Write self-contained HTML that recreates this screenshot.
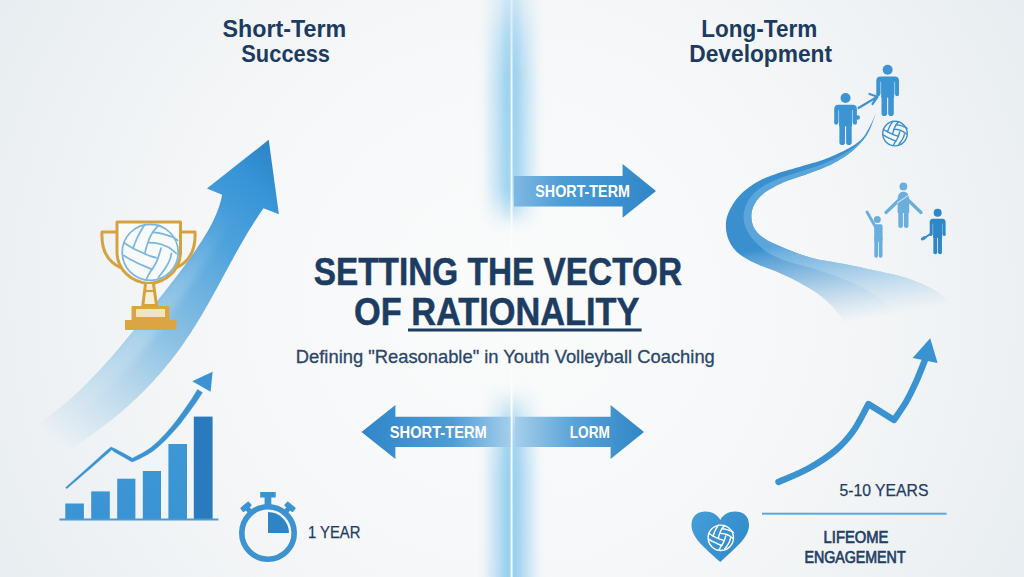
<!DOCTYPE html>
<html><head><meta charset="utf-8">
<style>
html,body{margin:0;padding:0;width:1024px;height:577px;overflow:hidden;background:#eef1f4;}
svg{display:block;position:absolute;left:0;top:0;}
text{font-family:"Liberation Sans",sans-serif;}
</style></head>
<body>
<svg width="1024" height="577" viewBox="0 0 1024 577">
<defs>
  <radialGradient id="bg" cx="512" cy="300" r="620" gradientUnits="userSpaceOnUse">
    <stop offset="0" stop-color="#fafbfb"/>
    <stop offset="0.4" stop-color="#f7f8f9"/>
    <stop offset="0.7" stop-color="#f0f3f5"/>
    <stop offset="1" stop-color="#e6ecf0"/>
  </radialGradient>
  <linearGradient id="glowV" x1="0" y1="0" x2="0" y2="577" gradientUnits="userSpaceOnUse">
    <stop offset="0" stop-color="#a9d3ef" stop-opacity="0.9"/>
    <stop offset="0.3" stop-color="#a9d3ef" stop-opacity="0.8"/>
    <stop offset="0.4" stop-color="#a9d3ef" stop-opacity="0"/>
    <stop offset="0.66" stop-color="#a9d3ef" stop-opacity="0"/>
    <stop offset="0.8" stop-color="#a9d3ef" stop-opacity="0.8"/>
    <stop offset="1" stop-color="#a9d3ef" stop-opacity="0.9"/>
  </linearGradient>
  <linearGradient id="glowH" x1="490" y1="0" x2="536" y2="0" gradientUnits="userSpaceOnUse">
    <stop offset="0" stop-color="#fff" stop-opacity="0"/>
    <stop offset="0.5" stop-color="#fff" stop-opacity="1"/>
    <stop offset="1" stop-color="#fff" stop-opacity="0"/>
  </linearGradient>
  <mask id="glowMask" maskUnits="userSpaceOnUse" x="0" y="0" width="1024" height="577">
    <rect x="488" y="0" width="50" height="577" fill="url(#glowH)"/>
  </mask>
  <linearGradient id="bigArrow" x1="40" y1="430" x2="270" y2="140" gradientUnits="userSpaceOnUse">
    <stop offset="0" stop-color="#7ab8e0" stop-opacity="0"/>
    <stop offset="0.2" stop-color="#7ab8e0" stop-opacity="0.4"/>
    <stop offset="0.4" stop-color="#6db1de" stop-opacity="0.75"/>
    <stop offset="0.7" stop-color="#459edb" stop-opacity="0.95"/>
    <stop offset="0.88" stop-color="#3794d6"/>
    <stop offset="1" stop-color="#2a83c6"/>
  </linearGradient>
  <linearGradient id="ribbon" x1="870" y1="120" x2="930" y2="320" gradientUnits="userSpaceOnUse">
    <stop offset="0" stop-color="#3a8fcd"/>
    <stop offset="0.5" stop-color="#4c9bd4"/>
    <stop offset="0.75" stop-color="#7ab6e0" stop-opacity="0.8"/>
    <stop offset="1" stop-color="#c9e2f3" stop-opacity="0"/>
  </linearGradient>
  <linearGradient id="arrTop" x1="514" y1="0" x2="656" y2="0" gradientUnits="userSpaceOnUse">
    <stop offset="0" stop-color="#7fb9e2"/>
    <stop offset="0.35" stop-color="#4d9cd5"/>
    <stop offset="1" stop-color="#2f86c8"/>
  </linearGradient>
  <linearGradient id="arrL" x1="361" y1="0" x2="511" y2="0" gradientUnits="userSpaceOnUse">
    <stop offset="0" stop-color="#2f86c8"/>
    <stop offset="0.6" stop-color="#4d9cd5"/>
    <stop offset="1" stop-color="#a6cfeb"/>
  </linearGradient>
  <linearGradient id="arrR" x1="515" y1="0" x2="644" y2="0" gradientUnits="userSpaceOnUse">
    <stop offset="0" stop-color="#a6cfeb"/>
    <stop offset="0.45" stop-color="#5aa3d8"/>
    <stop offset="1" stop-color="#2f86c8"/>
  </linearGradient>
  <linearGradient id="gold" x1="0" y1="220" x2="0" y2="330" gradientUnits="userSpaceOnUse">
    <stop offset="0" stop-color="#d9a640"/>
    <stop offset="1" stop-color="#e0ac44"/>
  </linearGradient>
  <linearGradient id="ribFade" x1="788" y1="244" x2="803" y2="330" gradientUnits="userSpaceOnUse">
    <stop offset="0" stop-color="#fff" stop-opacity="1"/>
    <stop offset="0.1" stop-color="#fff" stop-opacity="0.85"/>
    <stop offset="0.38" stop-color="#fff" stop-opacity="0.55"/>
    <stop offset="0.62" stop-color="#fff" stop-opacity="0.3"/>
    <stop offset="0.85" stop-color="#fff" stop-opacity="0.1"/>
    <stop offset="1" stop-color="#fff" stop-opacity="0"/>
  </linearGradient>
  <mask id="ribMask" maskUnits="userSpaceOnUse" x="0" y="0" width="1024" height="577">
    <rect x="600" y="0" width="424" height="577" fill="url(#ribFade)"/>
  </mask>
  <filter id="blur6" x="-100%" y="-10%" width="300%" height="120%"><feGaussianBlur stdDeviation="7"/></filter>
  <linearGradient id="lineV" x1="0" y1="0" x2="0" y2="577" gradientUnits="userSpaceOnUse">
    <stop offset="0" stop-color="#fff" stop-opacity="0.4"/>
    <stop offset="0.15" stop-color="#fff" stop-opacity="0.85"/>
    <stop offset="0.36" stop-color="#fff" stop-opacity="0.9"/>
    <stop offset="0.43" stop-color="#fff" stop-opacity="0.3"/>
    <stop offset="0.64" stop-color="#fff" stop-opacity="0.3"/>
    <stop offset="0.7" stop-color="#fff" stop-opacity="0.95"/>
    <stop offset="1" stop-color="#fff" stop-opacity="0.95"/>
  </linearGradient>
  <linearGradient id="glowFill" x1="0" y1="0" x2="0" y2="577" gradientUnits="userSpaceOnUse">
    <stop offset="0" stop-color="#b3dcf2" stop-opacity="0.35"/>
    <stop offset="0.07" stop-color="#b3dcf2" stop-opacity="0.75"/>
    <stop offset="0.14" stop-color="#b3dcf2" stop-opacity="0.95"/>
    <stop offset="0.33" stop-color="#b3dcf2" stop-opacity="0.9"/>
    <stop offset="0.395" stop-color="#b3dcf2" stop-opacity="0"/>
    <stop offset="0.67" stop-color="#b3dcf2" stop-opacity="0"/>
    <stop offset="0.75" stop-color="#b3dcf2" stop-opacity="0.8"/>
    <stop offset="0.82" stop-color="#b3dcf2" stop-opacity="1"/>
    <stop offset="1" stop-color="#b3dcf2" stop-opacity="1"/>
  </linearGradient>
  <filter id="blur3" x="-100%" y="-10%" width="300%" height="120%"><feGaussianBlur stdDeviation="3"/></filter>
  <linearGradient id="glowFill2" x1="0" y1="0" x2="0" y2="577" gradientUnits="userSpaceOnUse">
    <stop offset="0" stop-color="#92cdee" stop-opacity="0.3"/>
    <stop offset="0.07" stop-color="#92cdee" stop-opacity="0.6"/>
    <stop offset="0.14" stop-color="#92cdee" stop-opacity="0.85"/>
    <stop offset="0.33" stop-color="#92cdee" stop-opacity="0.75"/>
    <stop offset="0.39" stop-color="#92cdee" stop-opacity="0"/>
    <stop offset="0.68" stop-color="#92cdee" stop-opacity="0"/>
    <stop offset="0.76" stop-color="#92cdee" stop-opacity="0.75"/>
    <stop offset="0.84" stop-color="#92cdee" stop-opacity="0.9"/>
    <stop offset="1" stop-color="#92cdee" stop-opacity="0.95"/>
  </linearGradient>
  <linearGradient id="bandHi" x1="220" y1="200" x2="60" y2="420" gradientUnits="userSpaceOnUse">
    <stop offset="0" stop-color="#ffffff" stop-opacity="0"/>
    <stop offset="0.3" stop-color="#ffffff" stop-opacity="0.15"/>
    <stop offset="0.6" stop-color="#ffffff" stop-opacity="0.2"/>
    <stop offset="1" stop-color="#ffffff" stop-opacity="0"/>
  </linearGradient>
  <linearGradient id="heartG" x1="692" y1="515" x2="750" y2="555" gradientUnits="userSpaceOnUse">
    <stop offset="0" stop-color="#459dd8"/>
    <stop offset="1" stop-color="#2f88c9"/>
  </linearGradient>
  <linearGradient id="barG" x1="0" y1="410" x2="0" y2="520" gradientUnits="userSpaceOnUse">
    <stop offset="0" stop-color="#3f9ad8"/>
    <stop offset="1" stop-color="#3a93d2"/>
  </linearGradient>
</defs>

<!-- background -->
<rect width="1024" height="577" fill="url(#bg)"/>

<!-- center glow divider -->
<g filter="url(#blur6)">
  <rect x="491" y="-20" width="20" height="617" fill="url(#glowFill)"/>
  <rect x="512.5" y="-20" width="19" height="617" fill="url(#glowFill)"/>
</g>
<g filter="url(#blur3)">
  <rect x="503.5" y="-10" width="7.5" height="597" fill="url(#glowFill2)"/>
  <rect x="512.5" y="-10" width="7" height="597" fill="url(#glowFill2)"/>
</g>
<rect x="510.6" y="0" width="1.9" height="577" fill="url(#lineV)"/>
<!-- big left arrow band -->
<path d="M268.7,139.8 L278.9,214.3 L263.53,208.20 L261.96,210.48 L260.40,212.78 L258.85,215.08 L257.32,217.40 L255.81,219.72 L254.31,222.06 L252.83,224.40 L251.36,226.75 L249.90,229.11 L248.45,231.48 L247.02,233.86 L245.60,236.24 L244.19,238.63 L242.80,241.03 L241.41,243.43 L240.03,245.84 L238.66,248.25 L237.30,250.67 L235.95,253.09 L234.60,255.51 L233.26,257.94 L231.93,260.38 L230.60,262.81 L229.27,265.25 L227.95,267.69 L226.63,270.13 L225.31,272.57 L224.00,275.01 L222.68,277.45 L221.36,279.89 L220.04,282.33 L218.72,284.77 L217.40,287.21 L216.07,289.64 L214.74,292.08 L213.40,294.51 L212.06,296.94 L210.71,299.36 L209.35,301.78 L207.99,304.19 L206.61,306.60 L205.23,309.01 L203.84,311.41 L202.43,313.80 L201.02,316.19 L199.59,318.57 L198.15,320.94 L196.70,323.30 L195.24,325.66 L193.76,328.01 L192.27,330.35 L190.76,332.68 L189.24,335.00 L187.71,337.31 L186.15,339.61 L184.59,341.89 L183.00,344.17 L181.40,346.44 L179.78,348.69 L178.15,350.93 L176.50,353.16 L174.83,355.38 L173.15,357.59 L171.45,359.78 L169.73,361.96 L168.00,364.12 L166.24,366.27 L164.47,368.41 L162.69,370.53 L160.88,372.64 L159.06,374.73 L157.23,376.81 L155.37,378.87 L153.50,380.92 L151.62,382.96 L149.71,384.97 L147.79,386.98 L145.86,388.97 L143.91,390.94 L141.95,392.90 L139.97,394.84 L137.97,396.77 L135.96,398.68 L133.94,400.58 L131.90,402.46 L129.84,404.32 L127.78,406.17 L125.70,408.01 L123.61,409.83 L121.50,411.64 L119.38,413.43 L117.25,415.20 L115.11,416.97 L112.95,418.71 L110.78,420.44 L108.61,422.16 L106.42,423.87 L104.22,425.56 L102.01,427.23 L99.78,428.89 L97.55,430.54 L95.31,432.17 L93.06,433.79 L90.80,435.40 L88.53,437.00 L86.25,438.58 L83.96,440.14 L81.66,441.70 L79.36,443.24 L77.04,444.77 L74.72,446.29 L72.39,447.79 L70.05,449.29 L67.70,450.77 L65.35,452.24 L62.99,453.70 L60.62,455.14 L58.25,456.58 L55.87,458.00 L-9.41,452.00 L-6.76,450.66 L-4.13,449.31 L-1.50,447.93 L1.12,446.54 L3.73,445.13 L6.32,443.71 L8.91,442.26 L11.49,440.80 L14.06,439.32 L16.61,437.82 L19.15,436.29 L21.69,434.75 L24.21,433.19 L26.71,431.61 L29.21,430.01 L31.69,428.39 L34.16,426.75 L36.61,425.09 L39.05,423.41 L41.48,421.70 L43.89,419.98 L46.28,418.23 L48.66,416.47 L51.03,414.68 L53.38,412.88 L55.71,411.05 L58.03,409.20 L60.33,407.33 L62.61,405.44 L64.88,403.54 L67.14,401.61 L69.37,399.66 L71.59,397.70 L73.79,395.72 L75.98,393.71 L78.15,391.70 L80.30,389.66 L82.44,387.61 L84.56,385.54 L86.67,383.45 L88.76,381.35 L90.84,379.24 L92.90,377.11 L94.95,374.97 L96.98,372.81 L99.00,370.65 L101.01,368.47 L103.01,366.28 L105.00,364.08 L106.97,361.87 L108.94,359.65 L110.89,357.42 L112.84,355.19 L114.77,352.94 L116.70,350.69 L118.62,348.43 L120.53,346.17 L122.44,343.90 L124.34,341.63 L126.24,339.35 L128.13,337.06 L130.01,334.78 L131.89,332.49 L133.77,330.19 L135.64,327.89 L137.51,325.59 L139.37,323.29 L141.24,320.99 L143.10,318.68 L144.96,316.37 L146.81,314.06 L148.67,311.75 L150.52,309.43 L152.37,307.12 L154.21,304.80 L156.06,302.48 L157.90,300.16 L159.74,297.84 L161.58,295.51 L163.42,293.18 L165.25,290.85 L167.08,288.52 L168.90,286.18 L170.72,283.85 L172.54,281.50 L174.35,279.16 L176.15,276.81 L177.95,274.45 L179.74,272.09 L181.53,269.72 L183.30,267.35 L185.07,264.97 L186.83,262.58 L188.57,260.19 L190.31,257.78 L192.02,255.37 L193.73,252.95 L195.42,250.51 L197.09,248.06 L198.73,245.60 L200.36,243.12 L201.97,240.63 L203.54,238.12 L205.09,235.59 L206.61,233.05 L208.10,230.48 L209.54,227.89 L210.95,225.28 L212.30,222.65 L213.61,219.99 L214.87,217.31 L216.06,214.59 L217.19,211.85 L218.24,209.08 L219.21,206.28 L220.09,203.45 L220.88,200.59 L221.56,197.71 L222.12,194.80 L206.9,188.6 Z" fill="url(#bigArrow)"/>
<path d="M222.12,194.80 L221.56,197.71 L220.88,200.59 L220.09,203.45 L219.21,206.28 L218.24,209.08 L217.19,211.85 L216.06,214.59 L214.87,217.31 L213.61,219.99 L212.30,222.65 L210.95,225.28 L209.54,227.89 L208.10,230.48 L206.61,233.05 L205.09,235.59 L203.54,238.12 L201.97,240.63 L200.36,243.12 L198.73,245.60 L197.09,248.06 L195.42,250.51 L193.73,252.95 L192.02,255.37 L190.31,257.78 L188.57,260.19 L186.83,262.58 L185.07,264.97 L183.30,267.35 L181.53,269.72 L179.74,272.09 L177.95,274.45 L176.15,276.81 L174.35,279.16 L172.54,281.50 L170.72,283.85 L168.90,286.18 L167.08,288.52 L165.25,290.85 L163.42,293.18 L161.58,295.51 L159.74,297.84 L157.90,300.16 L156.06,302.48 L154.21,304.80 L152.37,307.12 L150.52,309.43 L148.67,311.75 L146.81,314.06 L144.96,316.37 L143.10,318.68 L141.24,320.99 L139.37,323.29 L137.51,325.59 L135.64,327.89 L133.77,330.19 L131.89,332.49 L130.01,334.78 L128.13,337.06 L126.24,339.35 L124.34,341.63 L122.44,343.90 L120.53,346.17 L118.62,348.43 L116.70,350.69 L114.77,352.94 L112.84,355.19 L110.89,357.42 L108.94,359.65 L106.97,361.87 L105.00,364.08 L103.01,366.28 L101.01,368.47 L99.00,370.65 L96.98,372.81 L94.95,374.97 L92.90,377.11 L90.84,379.24 L88.76,381.35 L86.67,383.45 L84.56,385.54 L82.44,387.61 L80.30,389.66 L78.15,391.70 L75.98,393.71 L73.79,395.72 L71.59,397.70 L69.37,399.66 L67.14,401.61 L64.88,403.54 L62.61,405.44 L60.33,407.33 L58.03,409.20 L55.71,411.05 L53.38,412.88 L51.03,414.68 L48.66,416.47 L46.28,418.23 L43.89,419.98 L41.48,421.70 L39.05,423.41 L36.61,425.09 L34.16,426.75 L31.69,428.39 L29.21,430.01 L26.71,431.61 L24.21,433.19 L21.69,434.75 L19.15,436.29 L16.61,437.82 L14.06,439.32 L11.49,440.80 L8.91,442.26 L6.32,443.71 L3.73,445.13 L1.12,446.54 L-1.50,447.93 L-4.13,449.31 L-6.76,450.66 L-9.41,452.00 L18.01,454.52 L20.54,453.15 L23.07,451.76 L25.59,450.35 L28.10,448.93 L30.60,447.50 L33.09,446.05 L35.57,444.59 L38.05,443.10 L40.51,441.61 L42.96,440.09 L45.41,438.56 L47.84,437.02 L50.26,435.45 L52.67,433.87 L55.08,432.28 L57.46,430.66 L59.84,429.03 L62.21,427.38 L64.56,425.71 L66.90,424.02 L69.23,422.32 L71.54,420.60 L73.84,418.86 L76.13,417.10 L78.40,415.33 L80.66,413.53 L82.90,411.72 L85.13,409.89 L87.35,408.05 L89.55,406.18 L91.73,404.30 L93.90,402.40 L96.06,400.48 L98.20,398.55 L100.32,396.60 L102.43,394.63 L104.52,392.64 L106.60,390.64 L108.66,388.63 L110.71,386.60 L112.74,384.55 L114.76,382.49 L116.76,380.41 L118.75,378.32 L120.72,376.22 L122.68,374.10 L124.62,371.97 L126.55,369.83 L128.47,367.67 L130.37,365.51 L132.26,363.33 L134.14,361.14 L136.00,358.94 L137.85,356.73 L139.69,354.51 L141.52,352.28 L143.34,350.04 L145.15,347.79 L146.94,345.54 L148.73,343.27 L150.50,341.00 L152.27,338.72 L154.02,336.44 L155.77,334.14 L157.51,331.85 L159.24,329.54 L160.96,327.23 L162.67,324.92 L164.38,322.60 L166.08,320.27 L167.77,317.94 L169.45,315.61 L171.13,313.27 L172.80,310.93 L174.47,308.58 L176.13,306.23 L177.78,303.88 L179.43,301.52 L181.07,299.16 L182.71,296.79 L184.34,294.43 L185.97,292.05 L187.59,289.68 L189.21,287.30 L190.82,284.92 L192.43,282.54 L194.03,280.15 L195.63,277.76 L197.22,275.37 L198.81,272.97 L200.39,270.57 L201.97,268.16 L203.55,265.75 L205.11,263.34 L206.67,260.92 L208.23,258.49 L209.77,256.07 L211.31,253.63 L212.84,251.19 L214.36,248.74 L215.88,246.29 L217.38,243.83 L218.87,241.36 L220.35,238.88 L221.81,236.40 L223.26,233.90 L224.69,231.40 L226.10,228.89 L227.49,226.36 L228.85,223.82 L230.19,221.27 L231.50,218.71 L232.78,216.14 L234.02,213.55 L235.22,210.95 L236.37,208.34 L237.48,205.71 L238.52,203.07 L239.51,200.43 Z" fill="url(#bandHi)" filter="url(#blur3)"/>

<!-- trophy -->
<g fill="none" stroke="#d6a23f" stroke-width="3" stroke-linejoin="round">
  <path d="M117,222 L180.5,222 L180.5,252 C180.5,270 166,282.5 149,283.5 C132,282.5 117,270 117,252 Z" fill="#ffffff" fill-opacity="0.6"/>
  <path d="M117,232 L102,232 C101,250 108,262 121,268"/>
  <path d="M180,232 L195,232 C196,250 189,262 176,268"/>
  <path d="M145.5,284 L142.8,305.5 L156.6,305.5 L153.5,284" fill="#f6efe0"/>
  <path d="M144.5,291 L155,291" stroke-width="2.2"/>
</g>
<!-- trophy ball -->
<g fill="none" stroke="#7ab7e0" stroke-width="1.75" stroke-linecap="round" stroke-linejoin="round">
<circle cx="150.20" cy="252.30" r="28.00" fill="#f7f9fb"/>
<path d="M144.80,224.50 C144.23,225.42 142.55,227.97 141.38,230.01 C140.21,232.05 138.89,234.40 137.77,236.73 C136.64,239.07 135.41,242.11 134.63,244.01 C133.85,245.92 133.35,247.47 133.09,248.16"/>
<path d="M158.71,225.14 C157.98,225.95 155.67,228.25 154.34,230.01 C153.01,231.77 151.77,233.71 150.73,235.70 C149.70,237.68 148.91,239.86 148.13,241.94 C147.35,244.02 146.57,246.26 146.06,248.16 C145.54,250.06 145.19,252.47 145.02,253.34"/>
<path d="M123.77,242.44 C124.54,242.96 126.43,244.34 128.42,245.55 C130.40,246.76 133.07,248.40 135.67,249.70 C138.26,250.99 141.39,252.21 143.98,253.34 C146.58,254.46 148.99,255.66 151.24,256.44 C153.48,257.22 156.42,257.75 157.45,258.01"/>
<path d="M123.77,255.41 C124.89,256.10 127.98,258.17 130.49,259.55 C132.99,260.93 136.21,262.48 138.80,263.70 C141.40,264.91 143.81,265.88 146.06,266.83 C148.30,267.78 151.24,268.98 152.27,269.41"/>
<path d="M152.80,232.08 C153.92,232.26 157.19,232.60 159.52,233.12 C161.86,233.64 164.38,234.42 166.80,235.19 C169.23,235.97 172.25,236.90 174.06,237.77 C175.87,238.63 177.07,239.94 177.67,240.37"/>
<path d="M148.13,242.44 C149.16,242.53 152.10,242.63 154.34,242.98 C156.59,243.32 159.17,243.74 161.60,244.52 C164.02,245.29 166.45,246.15 168.88,247.62 C171.30,249.09 174.92,252.38 176.13,253.34"/>
<path d="M161.09,248.16 C160.83,249.02 160.13,251.44 159.52,253.34 C158.92,255.24 158.32,257.48 157.45,259.55 C156.59,261.62 155.55,263.69 154.34,265.77 C153.14,267.84 151.50,269.85 150.20,272.01 C148.90,274.17 147.17,277.61 146.56,278.73"/>
<path d="M171.45,253.34 C171.20,254.37 170.69,257.48 169.91,259.55 C169.14,261.62 168.02,263.69 166.80,265.77 C165.59,267.84 164.02,270.11 162.63,272.01 C161.25,273.92 159.18,276.33 158.49,277.19"/>
</g>
<rect x="131.5" y="306" width="38" height="14" fill="#dba543"/>
<rect x="136" y="309" width="29" height="8" fill="#f3e4c0"/>
<rect x="125" y="320" width="51.5" height="10" fill="#dba543"/>

<!-- bar chart -->
<g>
  <rect x="65.3" y="503.5" width="18.6" height="15.5" fill="url(#barG)"/>
  <rect x="91.2" y="491.4" width="18.6" height="27.6" fill="url(#barG)"/>
  <rect x="117.2" y="478.7" width="18.2" height="40.3" fill="url(#barG)"/>
  <rect x="142.8" y="471" width="18.2" height="48" fill="url(#barG)"/>
  <rect x="168.4" y="444" width="18.6" height="75" fill="url(#barG)"/>
  <rect x="193.8" y="416.6" width="18.8" height="102.4" fill="#2a7bbd"/>
  <rect x="59.4" y="518.5" width="159" height="2" fill="#4a9bd4"/>
  <path d="M66.73,488.80 L71.29,484.87 L75.84,480.94 L80.40,477.02 L84.95,473.09 L89.51,469.16 L94.06,465.23 L98.62,461.30 L103.18,457.37 L107.73,453.45 L111.66,449.85 L114.09,451.71 L117.60,453.72 L121.11,455.73 L124.62,457.73 L128.13,459.74 L132.03,461.91 L134.55,461.12 L136.11,460.35 L137.99,459.44 L140.10,458.41 L142.39,457.26 L144.80,456.00 L147.26,454.64 L149.71,453.18 L152.10,451.64 L154.35,450.01 L156.51,448.30 L158.67,446.46 L160.84,444.52 L163.00,442.49 L165.15,440.39 L167.29,438.22 L169.40,436.02 L171.48,433.80 L173.52,431.57 L175.50,429.35 L177.49,427.05 L179.49,424.63 L181.48,422.13 L183.45,419.59 L185.36,417.05 L187.22,414.55 L188.99,412.14 L190.66,409.84 L192.21,407.71 L193.62,405.77 L194.92,403.96 L196.13,402.23 L197.25,400.59 L198.27,399.06 L199.20,397.64 L200.03,396.34 L200.78,395.17 L201.42,394.14 L201.98,393.28 L202.45,392.56 L197.55,389.44 L197.08,390.20 L196.53,391.11 L195.90,392.16 L195.20,393.33 L194.41,394.61 L193.54,396.02 L192.59,397.53 L191.55,399.14 L190.41,400.84 L189.18,402.63 L187.82,404.59 L186.32,406.76 L184.71,409.08 L183.01,411.52 L181.24,414.03 L179.40,416.57 L177.54,419.10 L175.65,421.59 L173.77,423.98 L171.90,426.25 L170.00,428.47 L168.05,430.70 L166.06,432.93 L164.05,435.13 L162.01,437.29 L159.96,439.39 L157.91,441.40 L155.86,443.32 L153.84,445.12 L151.85,446.79 L149.79,448.34 L147.59,449.84 L145.28,451.28 L142.94,452.64 L140.63,453.92 L138.41,455.10 L136.34,456.17 L134.49,457.12 L132.90,457.95 L132.97,458.49 L129.81,456.73 L126.25,454.80 L122.69,452.87 L119.14,450.95 L115.58,449.02 L110.94,446.95 L105.85,451.31 L101.38,455.35 L96.92,459.38 L92.46,463.41 L87.99,467.44 L83.53,471.47 L79.06,475.50 L74.60,479.54 L70.13,483.57 L65.67,487.60 Z" fill="#3b93d1" stroke="#3b93d1" stroke-width="0.4" stroke-linejoin="round"/>
  <path d="M212.6,371.8 L192.3,381.2 L210.6,391.8 Z" fill="#3b93d1"/>
</g>

<!-- stopwatch -->
<g>
  <circle cx="268" cy="533" r="26.2" fill="none" stroke="#3d92d0" stroke-width="5.6"/>
  <rect x="260.2" y="492" width="15.5" height="5.5" fill="#3d92d0"/>
  <rect x="264.6" y="497" width="6.7" height="8" fill="#3d92d0"/>
  <g transform="rotate(-40 268 533)"><rect x="262.5" y="496" width="11" height="5.5" rx="1" fill="#3d92d0"/><rect x="265.5" y="500" width="5" height="6" fill="#3d92d0"/></g>
  <g transform="rotate(40 268 533)"><rect x="262.5" y="496" width="11" height="5.5" rx="1" fill="#3d92d0"/><rect x="265.5" y="500" width="5" height="6" fill="#3d92d0"/></g>
  <path d="M268,533 L268,512 A21,21 0 0 1 289,533 Z" fill="#2f84c6"/>
</g>

<!-- top center arrow -->
<path d="M514,176 L622.6,176 L622.6,164 L656,191 L622.6,217.7 L622.6,206.6 L514,206.6 Z" fill="url(#arrTop)"/>
<!-- lower arrows -->
<path d="M361.5,432 L395.4,405 L395.4,416.8 L510.5,416.8 L510.5,447 L395.4,447 L395.4,459 Z" fill="url(#arrL)"/>
<path d="M515,416.8 L610.6,416.8 L610.6,405 L644,432 L610.6,459 L610.6,447 L515,447 Z" fill="url(#arrR)"/>

<!-- right ribbon -->
<g mask="url(#ribMask)">
<path d="M876.00,113.00 L875.01,115.22 L874.04,117.44 L873.06,119.66 L872.05,121.88 L871.02,124.07 L869.94,126.25 L868.78,128.38 L867.60,130.50 L866.38,132.61 L865.10,134.67 L863.70,136.65 L862.14,138.51 L860.44,140.24 L858.60,141.83 L856.68,143.32 L854.69,144.70 L852.64,146.01 L850.55,147.24 L848.43,148.44 L846.30,149.59 L844.15,150.72 L841.97,151.80 L839.78,152.85 L837.58,153.87 L835.37,154.87 L833.14,155.84 L830.90,156.78 L828.65,157.69 L826.39,158.58 L824.12,159.43 L821.83,160.24 L819.52,161.01 L817.21,161.74 L814.88,162.44 L812.55,163.11 L810.21,163.78 L807.87,164.44 L805.54,165.09 L803.20,165.76 L800.87,166.44 L798.54,167.13 L796.21,167.81 L793.88,168.48 L791.54,169.14 L789.20,169.80 L786.87,170.47 L784.54,171.15 L782.21,171.85 L779.89,172.58 L777.59,173.34 L775.30,174.15 L773.02,174.98 L770.74,175.82 L768.47,176.69 L766.22,177.60 L763.99,178.55 L761.78,179.56 L759.61,180.65 L757.48,181.82 L755.39,183.06 L753.33,184.35 L751.31,185.70 L749.32,187.09 L747.38,188.54 L745.47,190.05 L743.62,191.62 L741.83,193.25 L740.10,194.96 L738.46,196.75 L736.91,198.62 L735.43,200.55 L734.04,202.54 L732.72,204.58 L731.48,206.67 L730.31,208.79 L729.23,210.97 L728.25,213.19 L727.40,215.46 L726.73,217.80 L726.25,220.18 L725.97,222.59 L725.87,225.01 L725.90,227.44 L726.10,229.86 L726.44,232.26 L726.94,234.64 L727.59,236.98 L728.39,239.27 L729.36,241.50 L730.48,243.65 L731.74,245.73 L733.13,247.71 L734.66,249.61 L736.31,251.38 L738.07,253.05 L739.94,254.60 L741.90,256.03 L743.94,257.36 L746.03,258.60 L748.15,259.77 L750.31,260.89 L752.48,261.98 L754.67,263.03 L756.87,264.05 L759.10,265.02 L761.35,265.93 L763.62,266.79 L765.90,267.63 L768.18,268.45 L770.47,269.28 L772.74,270.13 L775.00,271.01 L777.25,271.94 L779.47,272.91 L781.69,273.90 L783.90,274.90 L786.11,275.92 L788.30,276.96 L790.49,278.02 L792.66,279.10 L794.82,280.21 L796.97,281.34 L799.10,282.50 L801.22,283.69 L803.34,284.88 L805.45,286.08 L807.56,287.29 L809.65,288.52 L811.72,289.78 L813.78,291.08 L815.81,292.41 L817.81,293.79 L819.76,295.23 L821.67,296.74 L823.54,298.29 L825.38,299.87 L827.20,301.48 L828.97,303.13 L830.71,304.83 L832.39,306.58 L834.03,308.38 L835.61,310.22 L837.13,312.11 L838.60,314.05 L840.01,316.02 L841.34,318.06 L842.61,320.13 L843.83,322.22 L845.01,324.35 L846.16,326.48 L847.30,328.63 L848.41,330.79 L849.51,332.96 L850.60,335.13 L851.67,337.30 L852.75,339.48 L853.82,341.66 L854.89,343.84 L856.00,346.00 C890,330 930,312 953,305.7 L953.00,305.70 L951.20,303.93 L949.44,302.12 L947.67,300.32 L945.86,298.56 L944.00,296.86 L942.07,295.23 L940.08,293.68 L938.00,292.25 L935.85,290.93 L933.65,289.68 L931.43,288.49 L929.18,287.34 L926.91,286.23 L924.63,285.16 L922.33,284.12 L920.01,283.12 L917.68,282.14 L915.34,281.20 L912.98,280.30 L910.62,279.42 L908.23,278.58 L905.83,277.80 L903.42,277.07 L900.99,276.38 L898.55,275.73 L896.10,275.12 L893.64,274.54 L891.18,273.98 L888.72,273.44 L886.25,272.91 L883.78,272.39 L881.31,271.87 L878.84,271.34 L876.37,270.80 L873.91,270.26 L871.44,269.71 L868.98,269.18 L866.51,268.65 L864.04,268.13 L861.57,267.61 L859.10,267.10 L856.62,266.59 L854.15,266.09 L851.67,265.59 L849.20,265.09 L846.72,264.60 L844.25,264.11 L841.77,263.61 L839.29,263.14 L836.81,262.68 L834.32,262.25 L831.83,261.83 L829.34,261.42 L826.85,261.01 L824.36,260.59 L821.88,260.15 L819.40,259.67 L816.93,259.16 L814.47,258.60 L812.02,257.98 L809.59,257.29 L807.17,256.56 L804.77,255.78 L802.38,254.98 L800.00,254.14 L797.63,253.27 L795.26,252.39 L792.91,251.48 L790.56,250.56 L788.21,249.63 L785.87,248.69 L783.53,247.74 L781.19,246.79 L778.86,245.82 L776.54,244.82 L774.24,243.79 L771.95,242.72 L769.70,241.58 L767.48,240.38 L765.32,239.07 L763.21,237.68 L761.18,236.18 L759.25,234.55 L757.46,232.78 L755.84,230.84 L754.44,228.74 L753.33,226.48 L752.48,224.10 L751.88,221.65 L751.52,219.15 L751.36,216.63 L751.43,214.11 L751.75,211.61 L752.34,209.16 L753.21,206.78 L754.31,204.52 L755.58,202.33 L756.99,200.24 L758.55,198.25 L760.26,196.40 L762.09,194.66 L764.04,193.07 L766.09,191.59 L768.20,190.20 L770.35,188.89 L772.55,187.64 L774.77,186.45 L777.03,185.31 L779.30,184.20 L781.59,183.14 L783.90,182.12 L786.23,181.17 L788.60,180.29 L790.98,179.46 L793.38,178.66 L795.78,177.88 L798.18,177.10 L800.58,176.33 L802.98,175.53 L805.36,174.70 L807.73,173.84 L810.10,172.96 L812.47,172.09 L814.84,171.21 L817.20,170.33 L819.56,169.43 L821.91,168.52 L824.25,167.57 L826.58,166.58 L828.88,165.55 L831.16,164.46 L833.41,163.32 L835.63,162.12 L837.83,160.88 L840.00,159.59 L842.15,158.26 L844.26,156.89 L846.36,155.47 L848.42,154.02 L850.45,152.52 L852.43,150.96 L854.35,149.31 L856.19,147.59 L857.97,145.80 L859.69,143.95 L861.36,142.06 L862.99,140.13 L864.59,138.18 L866.09,136.15 L867.43,134.01 L868.62,131.79 L869.72,129.51 L870.72,127.20 L871.66,124.85 L872.55,122.49 L873.42,120.12 L874.28,117.75 L875.13,115.37 L876.00,113.00 Z" fill="#3a8fcf"/>
<path d="M876.00,113.00 L875.13,115.37 L874.28,117.75 L873.42,120.12 L872.55,122.49 L871.66,124.85 L870.72,127.20 L869.72,129.51 L868.62,131.79 L867.43,134.01 L866.09,136.15 L864.59,138.18 L862.99,140.13 L861.36,142.06 L859.69,143.95 L857.97,145.80 L856.19,147.59 L854.35,149.31 L852.43,150.96 L850.45,152.52 L848.42,154.02 L846.36,155.47 L844.26,156.89 L842.15,158.26 L840.00,159.59 L837.83,160.88 L835.63,162.12 L833.41,163.32 L831.16,164.46 L828.88,165.55 L826.58,166.58 L824.25,167.57 L821.91,168.52 L819.56,169.43 L817.20,170.33 L814.84,171.21 L812.47,172.09 L810.10,172.96 L807.73,173.84 L805.36,174.70 L802.98,175.53 L800.58,176.33 L798.18,177.10 L795.78,177.88 L793.38,178.66 L790.98,179.46 L788.60,180.29 L786.23,181.17 L783.90,182.12 L781.59,183.14 L779.30,184.20 L777.03,185.31 L774.77,186.45 L772.55,187.64 L770.35,188.89 L768.20,190.20 L766.09,191.59 L764.04,193.07 L762.09,194.66 L760.26,196.40 L758.55,198.25 L756.99,200.24 L755.58,202.33 L754.31,204.52 L753.21,206.78 L752.34,209.16 L751.75,211.61 L751.43,214.11 L751.36,216.63 L751.52,219.15 L751.88,221.65 L752.48,224.10 L753.33,226.48 L754.44,228.74 L755.84,230.84 L757.46,232.78 L759.25,234.55 L761.18,236.18 L763.21,237.68 L765.32,239.07 L767.48,240.38 L769.70,241.58 L771.95,242.72 L774.24,243.79 L776.54,244.82 L778.86,245.82 L781.19,246.79 L783.53,247.74 L785.87,248.69 L788.21,249.63 L790.56,250.56 L792.91,251.48 L795.26,252.39 L797.63,253.27 L800.00,254.14 L802.38,254.98 L804.77,255.78 L807.17,256.56 L809.59,257.29 L812.02,257.98 L814.47,258.60 L816.93,259.16 L819.40,259.67 L821.88,260.15 L824.36,260.59 L826.85,261.01 L829.34,261.42 L831.83,261.83 L834.32,262.25 L836.81,262.68 L839.29,263.14 L841.77,263.61 L844.25,264.11 L846.72,264.60 L849.20,265.09 L851.67,265.59 L854.15,266.09 L856.62,266.59 L859.10,267.10 L861.57,267.61 L864.04,268.13 L866.51,268.65 L868.98,269.18 L871.44,269.71 L873.91,270.26 L876.37,270.80 L878.84,271.34 L881.31,271.87 L883.78,272.39 L886.25,272.91 L888.72,273.44 L891.18,273.98 L893.64,274.54 L896.10,275.12 L898.55,275.73 L900.99,276.38 L903.42,277.07 L905.83,277.80 L908.23,278.58 L910.62,279.42 L912.98,280.30 L915.34,281.20 L917.68,282.14 L920.01,283.12 L922.33,284.12 L924.63,285.16 L926.91,286.23 L929.18,287.34 L931.43,288.49 L933.65,289.68 L935.85,290.93 L938.00,292.25 L940.08,293.68 L942.07,295.23 L944.00,296.86 L945.86,298.56 L947.67,300.32 L949.44,302.12 L951.20,303.93 L953.00,305.70 L904.50,325.85 L903.05,323.89 L901.63,321.89 L900.21,319.90 L898.77,317.93 L897.30,315.99 L895.79,314.09 L894.24,312.24 L892.65,310.44 L891.01,308.71 L889.33,307.02 L887.63,305.36 L885.89,303.73 L884.13,302.14 L882.32,300.59 L880.46,299.09 L878.57,297.61 L876.64,296.18 L874.68,294.79 L872.69,293.44 L870.66,292.13 L868.60,290.86 L866.51,289.64 L864.40,288.47 L862.26,287.33 L860.11,286.23 L857.93,285.18 L855.72,284.17 L853.50,283.20 L851.25,282.26 L848.99,281.35 L846.71,280.46 L844.43,279.58 L842.15,278.71 L839.86,277.84 L837.57,276.97 L835.27,276.11 L832.97,275.26 L830.67,274.43 L828.35,273.61 L826.03,272.81 L823.70,272.03 L821.37,271.26 L819.03,270.49 L816.68,269.74 L814.34,269.00 L811.99,268.27 L809.63,267.56 L807.26,266.87 L804.88,266.21 L802.50,265.57 L800.11,264.94 L797.73,264.31 L795.35,263.68 L792.97,263.02 L790.62,262.32 L788.27,261.59 L785.94,260.83 L783.62,260.03 L781.31,259.18 L779.02,258.29 L776.76,257.33 L774.54,256.30 L772.36,255.19 L770.23,254.02 L768.15,252.76 L766.14,251.44 L764.20,250.05 L762.32,248.60 L760.52,247.10 L758.79,245.56 L757.13,243.98 L755.56,242.36 L754.06,240.72 L752.65,239.04 L751.32,237.34 L750.07,235.62 L748.91,233.86 L747.83,232.08 L746.86,230.28 L746.03,228.43 L745.31,226.57 L744.72,224.68 L744.24,222.76 L743.89,220.79 L743.66,218.75 L743.58,216.66 L743.68,214.51 L743.96,212.33 L744.40,210.13 L744.99,207.95 L745.73,205.80 L746.63,203.68 L747.69,201.61 L748.91,199.60 L750.29,197.66 L751.82,195.80 L753.45,194.01 L755.16,192.30 L756.97,190.66 L758.87,189.11 L760.85,187.66 L762.91,186.32 L765.04,185.07 L767.21,183.90 L769.41,182.79 L771.64,181.73 L773.90,180.71 L776.16,179.73 L778.44,178.77 L780.74,177.86 L783.05,176.99 L785.39,176.16 L787.73,175.38 L790.09,174.63 L792.46,173.90 L794.83,173.18 L797.20,172.46 L799.56,171.73 L801.92,170.99 L804.28,170.23 L806.64,169.47 L808.99,168.70 L811.34,167.93 L813.69,167.16 L816.04,166.38 L818.38,165.59 L820.72,164.76 L823.04,163.91 L825.35,163.01 L827.64,162.06 L829.90,161.08 L832.15,160.05 L834.38,158.98 L836.60,157.87 L838.79,156.73 L840.96,155.56 L843.12,154.34 L845.25,153.09 L847.36,151.81 L849.44,150.48 L851.49,149.10 L853.49,147.66 L855.44,146.15 L857.33,144.56 L859.15,142.89 L860.90,141.15 L862.57,139.32 L864.14,137.41 L865.59,135.41 L866.91,133.31 L868.11,131.14 L869.25,128.95 L870.33,126.72 L871.34,124.46 L872.30,122.18 L873.24,119.89 L874.16,117.60 L875.07,115.29 L876.00,113.00 Z" fill="#63abdd" opacity="0.8"/>
</g>
<!-- people top -->
<circle cx="845.55" cy="97.97" r="5.00" fill="#3d94d2"/>
<path d="M834.20,122.80 L834.20,109.12 Q834.20,104.76 838.50,104.76 L852.60,104.76 Q856.90,104.76 856.90,109.12 L856.90,122.80 Z" fill="#3d94d2"/>
<circle cx="836.15" cy="122.80" r="1.95" fill="#3d94d2"/>
<circle cx="854.95" cy="122.80" r="1.95" fill="#3d94d2"/>
<rect x="839.10" y="107.09" width="12.90" height="19.26" fill="#3d94d2"/>
<rect x="839.40" y="121.28" width="5.60" height="23.72" rx="2.80" fill="#3d94d2"/>
<rect x="846.10" y="121.28" width="5.60" height="23.72" rx="2.80" fill="#3d94d2"/>
<path d="M838.60,110.13 L838.60,124.32 M852.50,110.13 L852.50,124.32" stroke="#eef3f7" stroke-width="0.70" opacity="0.8"/>
<circle cx="887.65" cy="69.70" r="5.00" fill="#3d94d2"/>
<path d="M876.30,94.20 L876.30,80.70 Q876.30,76.40 880.60,76.40 L894.70,76.40 Q899.00,76.40 899.00,80.70 L899.00,94.20 Z" fill="#3d94d2"/>
<circle cx="878.25" cy="94.20" r="1.95" fill="#3d94d2"/>
<circle cx="897.05" cy="94.20" r="1.95" fill="#3d94d2"/>
<rect x="881.20" y="78.70" width="12.90" height="19.00" fill="#3d94d2"/>
<rect x="881.50" y="92.70" width="5.60" height="23.40" rx="2.80" fill="#3d94d2"/>
<rect x="888.20" y="92.70" width="5.60" height="23.40" rx="2.80" fill="#3d94d2"/>
<path d="M880.70,81.70 L880.70,95.70 M894.60,81.70 L894.60,95.70" stroke="#eef3f7" stroke-width="0.70" opacity="0.8"/>
<path d="M858.5,108 L877,97 M869.5,94 L877.5,96.8 L872.5,104" fill="none" stroke="#3d94d2" stroke-width="2.2" stroke-linecap="round" stroke-linejoin="round"/>
<circle cx="857.8" cy="117.5" r="2.2" fill="#3d94d2"/>
<g fill="none" stroke="#3a8fcf" stroke-width="1.40" stroke-linecap="round" stroke-linejoin="round">
<circle cx="895.00" cy="133.60" r="12.30" fill="#f4f7fa"/>
<path d="M892.63,121.39 C892.38,121.79 891.64,122.91 891.13,123.81 C890.61,124.71 890.03,125.74 889.54,126.76 C889.04,127.79 888.50,129.12 888.16,129.96 C887.82,130.80 887.60,131.48 887.48,131.78"/>
<path d="M898.74,121.67 C898.42,122.03 897.40,123.04 896.82,123.81 C896.24,124.58 895.69,125.43 895.23,126.31 C894.78,127.18 894.43,128.14 894.09,129.05 C893.75,129.96 893.41,130.95 893.18,131.78 C892.95,132.61 892.80,133.68 892.72,134.06"/>
<path d="M883.39,129.27 C883.73,129.50 884.56,130.10 885.43,130.64 C886.30,131.17 887.48,131.89 888.62,132.46 C889.76,133.03 891.13,133.56 892.27,134.06 C893.41,134.55 894.47,135.08 895.46,135.42 C896.44,135.76 897.73,135.99 898.19,136.11"/>
<path d="M883.39,134.97 C883.88,135.27 885.24,136.18 886.34,136.79 C887.44,137.39 888.85,138.07 889.99,138.61 C891.13,139.14 892.19,139.57 893.18,139.98 C894.17,140.40 895.46,140.93 895.91,141.12"/>
<path d="M896.14,124.72 C896.64,124.80 898.07,124.95 899.10,125.17 C900.12,125.40 901.23,125.74 902.29,126.08 C903.36,126.42 904.68,126.84 905.48,127.22 C906.27,127.60 906.80,128.17 907.07,128.36"/>
<path d="M894.09,129.27 C894.54,129.31 895.83,129.35 896.82,129.50 C897.81,129.66 898.94,129.84 900.01,130.18 C901.07,130.52 902.14,130.90 903.20,131.55 C904.27,132.19 905.86,133.64 906.39,134.06"/>
<path d="M899.78,131.78 C899.67,132.16 899.36,133.22 899.10,134.06 C898.83,134.89 898.56,135.88 898.19,136.79 C897.81,137.70 897.35,138.60 896.82,139.52 C896.29,140.43 895.57,141.31 895.00,142.26 C894.43,143.21 893.67,144.72 893.40,145.21"/>
<path d="M904.34,134.06 C904.22,134.51 904.00,135.88 903.66,136.79 C903.32,137.70 902.83,138.60 902.29,139.52 C901.76,140.43 901.07,141.42 900.46,142.26 C899.85,143.10 898.94,144.16 898.64,144.53"/>
</g>

<!-- people middle group -->
<g fill="#6aaede">
  <circle cx="877.3" cy="219.6" r="3.5"/>
  <rect x="874.2" y="224.3" width="8.4" height="17.5" rx="1.8"/>
  <rect x="874.3" y="237" width="3.7" height="20.8" rx="1.8"/>
  <rect x="878.8" y="237" width="3.7" height="20.8" rx="1.8"/>
  <path d="M867,212 L875.5,227" stroke="#6aaede" stroke-width="2.9" stroke-linecap="round"/>
  <circle cx="903.4" cy="186.4" r="3.9"/>
  <path d="M897.6,200 C897.6,194 900,191.7 903.4,191.7 C906.8,191.7 909.2,194 909.2,200 L909.2,213 L897.6,213 Z"/>
  <rect x="898.3" y="208" width="4.6" height="20" rx="2.2"/>
  <rect x="903.9" y="208" width="4.6" height="20" rx="2.2"/>
  <path d="M886,212.5 L898.5,200.5 M908.5,200.5 L921,212.5" fill="none" stroke="#6aaede" stroke-width="3.2" stroke-linecap="round" stroke-linejoin="round"/>
  <path d="M897,203 L909,195" stroke="#eef3f7" stroke-width="0.9"/>
</g>
<circle cx="937.65" cy="212.86" r="4.00" fill="#2f86c8"/>
<path d="M929.70,234.69 L929.70,222.66 Q929.70,218.83 932.71,218.83 L942.59,218.83 Q945.60,218.83 945.60,222.66 L945.60,234.69 Z" fill="#2f86c8"/>
<circle cx="931.07" cy="234.69" r="1.37" fill="#2f86c8"/>
<circle cx="944.23" cy="234.69" r="1.37" fill="#2f86c8"/>
<rect x="933.13" y="220.87" width="9.04" height="16.93" fill="#2f86c8"/>
<rect x="933.34" y="233.35" width="3.92" height="20.85" rx="1.96" fill="#2f86c8"/>
<rect x="938.04" y="233.35" width="3.92" height="20.85" rx="1.96" fill="#2f86c8"/>
<path d="M932.78,223.55 L932.78,236.02 M942.52,223.55 L942.52,236.02" stroke="#eef3f7" stroke-width="0.49" opacity="0.8"/>
<path d="M931,233.5 L926,237" stroke="#2f86c8" stroke-width="1.8" stroke-linecap="round" fill="none"/>
<ellipse cx="923.6" cy="238.3" rx="3" ry="1.7" transform="rotate(-28 923.6 238.3)" fill="#3a90d0"/>

<!-- zigzag arrow -->
<path d="M778.50,482.00 C783.48,479.75 798.82,473.83 808.40,468.50 C817.98,463.17 828.40,456.42 836.00,450.00 C843.60,443.58 848.60,437.67 854.00,430.00 C859.40,422.33 866.00,408.33 868.40,404.00 L894.00,420.00 C896.00,417.00 902.33,408.33 906.00,402.00 C909.67,395.67 912.83,389.00 916.00,382.00 C919.17,375.00 923.50,363.67 925.00,360.00" fill="none" stroke="#3a92d0" stroke-width="6.4" stroke-linecap="round" stroke-linejoin="round"/>
<path d="M930.2,338.2 L912.6,358 L937.6,363 Z" fill="#3a92d0"/>

<!-- divider line -->
<rect x="762" y="512.7" width="184.6" height="2" fill="#5aa8de"/>

<!-- heart -->
<path d="M720.3,562 C705,548 691.5,538 691.5,525 C691.5,516 698,511.6 705.5,511.6 C712,511.6 717.5,515 720.3,520 C723,515 728.5,511.6 735,511.6 C743,511.6 749,516 749,525 C749,538 735,548 720.3,562 Z" fill="url(#heartG)"/>
<g fill="none" stroke="#ffffff" stroke-width="1.40" stroke-linecap="round" stroke-linejoin="round">
<circle cx="720.80" cy="537.80" r="12.70" fill="none"/>
<path d="M718.35,525.19 C718.09,525.61 717.33,526.77 716.80,527.69 C716.27,528.62 715.67,529.68 715.16,530.74 C714.65,531.80 714.09,533.18 713.74,534.04 C713.39,534.90 713.16,535.61 713.04,535.92"/>
<path d="M724.66,525.48 C724.33,525.85 723.28,526.89 722.68,527.69 C722.08,528.49 721.51,529.37 721.04,530.27 C720.57,531.17 720.21,532.16 719.86,533.10 C719.51,534.04 719.16,535.06 718.92,535.92 C718.69,536.78 718.53,537.88 718.45,538.27"/>
<path d="M708.81,533.33 C709.16,533.56 710.02,534.19 710.92,534.74 C711.82,535.29 713.03,536.03 714.21,536.62 C715.39,537.21 716.80,537.76 717.98,538.27 C719.16,538.78 720.25,539.33 721.27,539.68 C722.29,540.03 723.62,540.27 724.09,540.39"/>
<path d="M708.81,539.21 C709.32,539.52 710.72,540.46 711.86,541.09 C713.00,541.72 714.45,542.42 715.63,542.97 C716.81,543.52 717.90,543.96 718.92,544.39 C719.94,544.82 721.27,545.36 721.74,545.56"/>
<path d="M721.98,528.63 C722.49,528.71 723.97,528.87 725.03,529.10 C726.09,529.34 727.23,529.69 728.33,530.04 C729.43,530.39 730.80,530.82 731.62,531.21 C732.44,531.60 732.99,532.19 733.26,532.39"/>
<path d="M719.86,533.33 C720.33,533.37 721.66,533.41 722.68,533.57 C723.70,533.73 724.87,533.92 725.97,534.27 C727.07,534.62 728.17,535.01 729.27,535.68 C730.37,536.35 732.01,537.84 732.56,538.27"/>
<path d="M725.74,535.92 C725.62,536.31 725.30,537.41 725.03,538.27 C724.75,539.13 724.48,540.15 724.09,541.09 C723.70,542.03 723.23,542.97 722.68,543.91 C722.13,544.85 721.39,545.76 720.80,546.74 C720.21,547.72 719.42,549.28 719.15,549.79"/>
<path d="M730.44,538.27 C730.32,538.74 730.09,540.15 729.74,541.09 C729.39,542.03 728.88,542.97 728.33,543.91 C727.78,544.85 727.07,545.88 726.44,546.74 C725.81,547.60 724.87,548.70 724.56,549.09"/>
</g>

<!-- text -->
<g fill="#1c3b60" font-weight="bold" font-size="24">
  <text x="222.5" y="37" textLength="123.7" lengthAdjust="spacingAndGlyphs">Short-Term</text>
  <text x="241.3" y="61.7" textLength="88.7" lengthAdjust="spacingAndGlyphs">Success</text>
  <text x="701.3" y="37" textLength="116" lengthAdjust="spacingAndGlyphs">Long-Term</text>
  <text x="689.3" y="61.7" textLength="142.7" lengthAdjust="spacingAndGlyphs">Development</text>
</g>
<g fill="#1c3c62" stroke="#1c3c62" stroke-width="0.5" font-weight="bold" font-size="38">
  <text x="313.7" y="285" textLength="368.3" lengthAdjust="spacingAndGlyphs">SETTING THE VECTOR</text>
  <text x="354" y="324.5" textLength="285.4" lengthAdjust="spacingAndGlyphs">OF RATIONALITY</text>
</g>
<rect x="408" y="328.5" width="233.6" height="3" fill="#1c3c62"/>
<text x="295.8" y="363" textLength="419" lengthAdjust="spacingAndGlyphs" font-size="18.5" fill="#2a4767" stroke="#2a4767" stroke-width="0.3">Defining "Reasonable" in Youth Volleyball Coaching</text>

<g fill="#ffffff" font-weight="bold" font-size="17.3">
  <text x="535.3" y="197.2" textLength="94.6" lengthAdjust="spacingAndGlyphs">SHORT-TERM</text>
  <text x="389.8" y="438.2" textLength="97" lengthAdjust="spacingAndGlyphs">SHORT-TERM</text>
  <text x="569.8" y="438.2" textLength="40" lengthAdjust="spacingAndGlyphs">LORM</text>
</g>

<g fill="#1f3d5f" stroke="#1f3d5f" stroke-width="0.25" font-size="16.5">
  <text x="308" y="538" textLength="52.4" lengthAdjust="spacingAndGlyphs">1 YEAR</text>
  <text x="839.4" y="496" textLength="89" lengthAdjust="spacingAndGlyphs">5-10 YEARS</text>
</g>
<g fill="#1f4064" stroke="#1f4064" stroke-width="0.7" font-size="16.5">
  <text x="823.6" y="542.5" textLength="64.8" lengthAdjust="spacingAndGlyphs">LIFEOME</text>
  <text x="804.4" y="563" textLength="101.2" lengthAdjust="spacingAndGlyphs">ENGAGEMENT</text>
</g>
</svg>
</body></html>
